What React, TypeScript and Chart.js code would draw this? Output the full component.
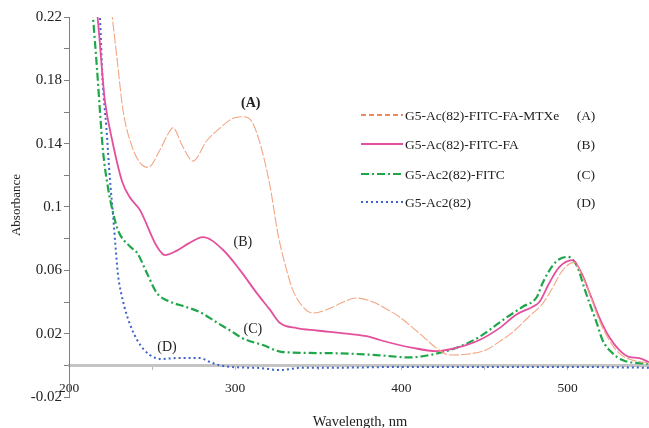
import { useEffect, useRef } from "react";
import { Chart, registerables } from "chart.js";

Chart.register(...registerables);

const FONT = '"Liberation Serif", "Times New Roman", serif';

// Series names and tags
const seriesNames = ["G5-Ac(82)-FITC-FA-MTXe", "G5-Ac(82)-FITC-FA", "G5-Ac2(82)-FITC", "G5-Ac2(82)"];
const seriesTags = ["(A)", "(B)", "(C)", "(D)"];

// (A) G5-Ac(82)-FITC-FA-MTXe
const wavelengthA = [224.5, 226, 229.5, 232.5, 238, 242.7, 247.5, 254.7, 259.5, 262.5, 268.5, 274.5, 283, 291, 298.6, 304.6, 310, 315, 321, 325.7, 331, 334.7, 340.7, 346.7, 357, 365, 373, 383, 392, 399, 411, 421, 429, 439, 451, 459, 467, 477, 485, 491, 497, 504, 509, 514, 519, 525, 531, 539, 549];
const absorbanceA = [0.232, 0.22, 0.188, 0.161, 0.138, 0.128, 0.125, 0.136, 0.146, 0.15, 0.138, 0.129, 0.142, 0.15, 0.156, 0.157, 0.154, 0.14, 0.113, 0.083, 0.06, 0.0475, 0.037, 0.033, 0.036, 0.04, 0.0425, 0.04, 0.035, 0.0305, 0.02, 0.011, 0.0065, 0.007, 0.0097, 0.015, 0.021, 0.031, 0.039, 0.049, 0.06, 0.065, 0.056, 0.043, 0.0286, 0.016, 0.0077, 0.0033, 0.0015];

// (B) G5-Ac(82)-FITC-FA
const wavelengthB = [215.5, 217.2, 220.4, 221.6, 226, 232, 236.7, 242.7, 252.9, 257.7, 264, 272, 280.6, 292.6, 303, 313, 321, 327, 337, 349, 367, 381, 387, 407, 421, 433, 447, 459, 469, 479, 483, 489, 495, 503, 508.5, 513.3, 519, 525, 531, 537, 543, 549];
const absorbanceB = [0.235, 0.22, 0.18, 0.167, 0.142, 0.116, 0.106, 0.098, 0.075, 0.0696, 0.072, 0.077, 0.081, 0.073, 0.06, 0.0456, 0.035, 0.0267, 0.0235, 0.022, 0.02, 0.018, 0.016, 0.011, 0.009, 0.011, 0.016, 0.0235, 0.032, 0.037, 0.04, 0.052, 0.062, 0.0664, 0.058, 0.0456, 0.0305, 0.018, 0.0097, 0.0053, 0.0046, 0.002];

// (C) G5-Ac2(82)-FITC
const wavelengthC = [213, 214.4, 216.8, 218.6, 220.4, 223.5, 226.6, 229.6, 236.7, 241, 247, 252.9, 259, 270, 278.8, 289, 297, 304.6, 316.7, 328.7, 357, 385, 405, 417, 433, 447, 459, 463, 473, 481.4, 485, 491, 495, 500.2, 506, 510, 513.3, 517.5, 521, 527, 533, 541, 549];
const absorbanceC = [0.235, 0.22, 0.188, 0.161, 0.136, 0.112, 0.096, 0.085, 0.075, 0.071, 0.058, 0.0456, 0.041, 0.037, 0.0336, 0.027, 0.022, 0.017, 0.0128, 0.0084, 0.0077, 0.0065, 0.005, 0.0065, 0.011, 0.018, 0.027, 0.03, 0.037, 0.043, 0.052, 0.063, 0.067, 0.0685, 0.062, 0.049, 0.039, 0.027, 0.016, 0.0077, 0.0033, 0.0015, 0.001];

// (D) G5-Ac2(82)
const wavelengthD = [217.5, 218.6, 220.2, 222.5, 224.6, 226.5, 228, 229.5, 231.5, 235, 241, 248.7, 256, 265, 278.8, 285, 290.8, 300, 315, 327, 340, 360, 400, 450, 500, 549];
const absorbanceD = [0.235, 0.22, 0.18, 0.15, 0.118, 0.095, 0.075, 0.057, 0.045, 0.031, 0.016, 0.0065, 0.004, 0.0046, 0.0046, 0.002, 0.0, -0.0012, -0.0017, -0.003, -0.0015, -0.0015, -0.001, -0.001, -0.001, -0.0015];

// Axis ranges / ticks
const xMin = 200;
const xMax = 549;
const xTickValues = [200, 250, 300, 350, 400, 450, 500];
const xTickLabels = ["200", "", "300", "", "400", "", "500"];
const yMin = -0.02;
const yMax = 0.22;
const yTickValues = [-0.02, 0, 0.02, 0.04, 0.06, 0.08, 0.1, 0.12, 0.14, 0.16, 0.18, 0.2, 0.22];
const yTickLabels = ["-0.02", "", "0.02", "", "0.06", "", "0.1", "", "0.14", "", "0.18", "", "0.22"];

// Curve tag anchor positions (data coordinates)
const tagWavelengths = [309.4, 304.6, 310.6, 259];
const tagAbsorbances = [0.1655, 0.0778, 0.0229, 0.0115];

const colors = ["#f3a682", "#e4509c", "#1fa64a", "#3d62c8"];
const legendColors = ["#ec8a5e", "#e4509c", "#1fa64a", "#3d62c8"];
const dashes: number[][] = [[10, 2], [], [8, 3, 2, 3], [2, 3]];
const widths = [1.1, 1.8, 2.2, 2];

function toPoints(xs: number[], ys: number[]) {
  return xs.map((x, i) => ({ x, y: ys[i] }));
}

export default function App() {
  const ref = useRef<HTMLCanvasElement | null>(null);

  useEffect(() => {
    document.body.style.margin = "0";
    const canvas = ref.current;
    if (!canvas) return;

    const allX = [wavelengthA, wavelengthB, wavelengthC, wavelengthD];
    const allY = [absorbanceA, absorbanceB, absorbanceC, absorbanceD];

    const overlay = {
      id: "overlay",
      afterDraw(chart: any) {
        const ctx = chart.ctx as CanvasRenderingContext2D;
        const xs = chart.scales.x;
        const ys = chart.scales.y;
        ctx.save();
        ctx.fillStyle = "#222";
        // Y title
        ctx.save();
        ctx.translate(17, 205);
        ctx.rotate(-Math.PI / 2);
        ctx.font = `13px ${FONT}`;
        ctx.textAlign = "center";
        ctx.textBaseline = "middle";
        ctx.fillText("Absorbance", 0, 0);
        ctx.restore();
        // X title
        ctx.font = `14.5px ${FONT}`;
        ctx.textAlign = "center";
        ctx.textBaseline = "alphabetic";
        ctx.fillText("Wavelength, nm", 360, 426);

        // Legend
        const legendY = [115, 144, 174, 202];
        for (let i = 0; i < 4; i++) {
          ctx.save();
          ctx.strokeStyle = legendColors[i];
          ctx.lineWidth = i === 0 ? 1.8 : widths[i];
          ctx.setLineDash(i === 0 ? [5, 3] : dashes[i]);
          ctx.beginPath();
          ctx.moveTo(361, legendY[i]);
          ctx.lineTo(403, legendY[i]);
          ctx.stroke();
          ctx.restore();
          ctx.font = `13.5px ${FONT}`;
          ctx.textAlign = "left";
          ctx.textBaseline = "middle";
          ctx.fillStyle = "#222";
          ctx.fillText(seriesNames[i], 405, legendY[i] + 1);
          ctx.textAlign = "center";
          ctx.fillText(seriesTags[i], 586, legendY[i] + 1);
        }

        // Curve tags
        for (let i = 0; i < 4; i++) {
          ctx.font = `${i === 0 ? "bold " : ""}14px ${FONT}`;
          ctx.textAlign = "center";
          ctx.textBaseline = "middle";
          ctx.fillText(
            seriesTags[i],
            xs.getPixelForValue(tagWavelengths[i]),
            ys.getPixelForValue(tagAbsorbances[i])
          );
        }
        ctx.restore();
      },
    };

    const chart = new Chart(canvas, {
      type: "line",
      data: {
        datasets: allX.map((xsArr, i) => ({
          label: seriesNames[i],
          data: toPoints(xsArr, allY[i]),
          borderColor: colors[i],
          backgroundColor: colors[i],
          borderWidth: widths[i],
          borderDash: dashes[i],
          pointRadius: 0,
          fill: false,
          cubicInterpolationMode: "monotone" as const,
        })),
      },
      options: {
        responsive: false,
        animation: false,
        layout: { padding: { top: 17, bottom: 31, left: 0, right: 0 } },
        plugins: {
          legend: { display: false },
          tooltip: { enabled: false },
        },
        scales: {
          x: {
            type: "linear",
            min: xMin,
            max: xMax,
            position: { y: 0 } as any,
            afterBuildTicks: (scale: any) => {
              scale.ticks = xTickValues.map((v) => ({ value: v }));
            },
            ticks: {
              autoSkip: false,
              maxRotation: 0,
              padding: 12,
              color: "#222",
              font: { family: FONT, size: 13.5 },
              callback: (_v: any, idx: number) => xTickLabels[idx] ?? "",
            },
            grid: {
              drawOnChartArea: false,
              drawTicks: true,
              tickLength: 3,
              color: "#b8b8b8",
            },
            border: { display: true, color: "#c4c4c4", width: 3 },
          },
          y: {
            type: "linear",
            min: yMin,
            max: yMax,
            afterFit: (scale: any) => {
              scale.width = 69;
            },
            afterBuildTicks: (scale: any) => {
              scale.ticks = yTickValues.map((v) => ({ value: v }));
            },
            ticks: {
              autoSkip: false,
              padding: 2,
              color: "#222",
              font: { family: FONT, size: 15 },
              callback: (_v: any, idx: number) => yTickLabels[idx] ?? "",
            },
            grid: {
              drawOnChartArea: false,
              drawTicks: true,
              tickLength: 5,
              color: "#808080",
            },
            border: { display: true, color: "#808080", width: 1 },
          },
        },
      },
      plugins: [overlay],
    });

    return () => chart.destroy();
  }, []);

  return (
    <div style={{ width: 649, height: 428, background: "#fff" }}>
      <canvas ref={ref} width={649} height={428} style={{ display: "block" }} />
    </div>
  );
}
